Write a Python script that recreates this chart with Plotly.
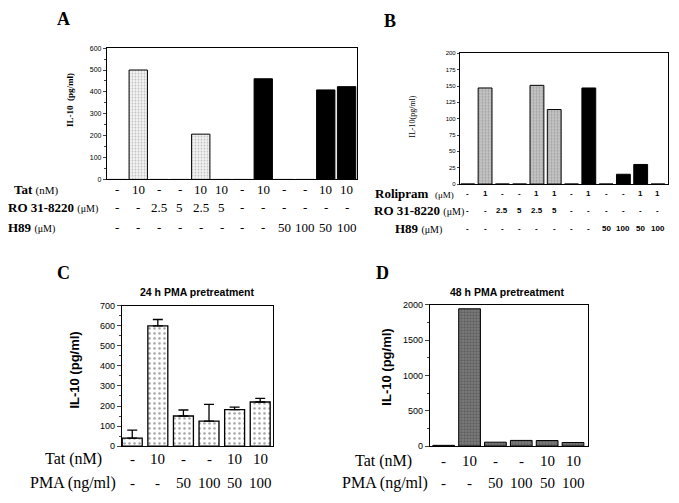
import plotly.graph_objects as go

# ---------------- data ----------------
# Panel A
A_tat = ["-", "10", "-", "-", "10", "10", "-", "10", "-", "-", "10", "10"]
A_ro = ["-", "-", "2.5", "5", "2.5", "5", "-", "-", "-", "-", "-", "-"]
A_h89 = ["-", "-", "-", "-", "-", "-", "-", "-", "50", "100", "50", "100"]
A_il10 = [0, 500, 0, 0, 207, 0, 0, 460, 0, 0, 409, 424]
A_solid = [False, False, False, False, False, False, False, True, True, True, True, True]

# Panel B
B_rolipram = ["-", "1", "-", "-", "1", "1", "-", "1", "-", "-", "1", "1"]
B_ro = ["-", "-", "2.5", "5", "2.5", "5", "-", "-", "-", "-", "-", "-"]
B_h89 = ["-", "-", "-", "-", "-", "-", "-", "-", "50", "100", "50", "100"]
B_il10 = [0, 147, 0, 0, 151, 114, 0, 147, 0, 15, 30, 0]
B_solid = [False, False, False, False, False, False, False, True, True, True, True, True]

# Panel C (24 h PMA pretreatment)
C_tat = ["-", "10", "-", "-", "10", "10"]
C_pma = ["-", "-", "50", "100", "50", "100"]
C_il10 = [40, 600, 150, 125, 182, 220]
C_err = [40, 32, 30, 83, 12, 18]

# Panel D (48 h PMA pretreatment)
D_tat = ["-", "10", "-", "-", "10", "10"]
D_pma = ["-", "-", "50", "100", "50", "100"]
D_il10 = [10, 1945, 55, 80, 78, 50]

# ---------------- layout helpers ----------------
W, H = 679, 503
SERIF = "Liberation Serif"
SANS = "Liberation Sans"


def px(x):
    return x / W


def py(y):
    return 1 - y / H


fig = go.Figure()


def split(vals, mask, want):
    return [v if m == want else None for v, m in zip(vals, mask)]


# Panel A bars
xa = list(range(len(A_il10)))
fig.add_trace(go.Bar(x=xa, y=split(A_il10, A_solid, False), width=0.88,
                     marker=dict(color="white", line=dict(color="black", width=1),
                                 pattern=dict(shape=".", fgcolor="#8a8a8a", bgcolor="#f4f4f4",
                                              size=3, solidity=0.3)),
                     xaxis="x", yaxis="y", showlegend=False))
fig.add_trace(go.Bar(x=xa, y=split(A_il10, A_solid, True), width=0.88,
                     marker=dict(color="black", line=dict(color="black", width=1)),
                     xaxis="x", yaxis="y", showlegend=False))

# Panel B bars
xb = list(range(len(B_il10)))
fig.add_trace(go.Bar(x=xb, y=split(B_il10, B_solid, False), width=0.8,
                     marker=dict(color="#bdbdbd", line=dict(color="black", width=1),
                                 pattern=dict(shape=".", fgcolor="#7a7a7a", bgcolor="#c4c4c4",
                                              size=3, solidity=0.3)),
                     xaxis="x2", yaxis="y2", showlegend=False))
fig.add_trace(go.Bar(x=xb, y=split(B_il10, B_solid, True), width=0.8,
                     marker=dict(color="black", line=dict(color="black", width=1)),
                     xaxis="x2", yaxis="y2", showlegend=False))

# Panel C bars
xc = list(range(len(C_il10)))
fig.add_trace(go.Bar(x=xc, y=C_il10, width=0.78,
                     marker=dict(color="white", line=dict(color="black", width=1.3),
                                 pattern=dict(shape=".", fgcolor="#444444", bgcolor="white",
                                              size=5, solidity=0.2)),
                     error_y=dict(type="data", array=C_err, arrayminus=[0] * len(C_err),
                                  symmetric=False, color="black", thickness=1.3, width=5),
                     xaxis="x3", yaxis="y3", showlegend=False))

# Panel D bars
xd = list(range(len(D_il10)))
fig.add_trace(go.Bar(x=xd, y=D_il10, width=0.84,
                     marker=dict(color="#707070", line=dict(color="black", width=1),
                                 pattern=dict(shape=".", fgcolor="#3a3a3a", bgcolor="#7a7a7a",
                                              size=3, solidity=0.4)),
                     xaxis="x4", yaxis="y4", showlegend=False))

axis_common = dict(showgrid=False, zeroline=False, showline=True, mirror=True,
                   linecolor="black", fixedrange=True)

layout = dict(
    width=W, height=H, margin=dict(l=0, r=0, t=0, b=0),
    paper_bgcolor="white", plot_bgcolor="white", barmode="overlay",
    showlegend=False,
    xaxis=dict(domain=[px(107), px(357)], range=[-0.5, 11.5], showticklabels=False,
               ticks="", linewidth=1.3, anchor="y", **axis_common),
    yaxis=dict(domain=[py(178), py(44)], range=[0, 600], dtick=100, ticks="outside",
               ticklen=3, tickwidth=1, linewidth=1.3, anchor="x",
               minor=dict(dtick=50, ticks="outside", ticklen=2),
               tickfont=dict(family=SANS, size=7, color="black"), **axis_common),
    xaxis2=dict(domain=[px(460), px(668)], range=[-0.45, 11.58], showticklabels=False,
                ticks="", linewidth=1.3, anchor="y2", **axis_common),
    yaxis2=dict(domain=[py(182.7), py(49.3)], range=[0, 200], dtick=25, ticks="outside",
                ticklen=2, tickwidth=1, linewidth=1.2, anchor="x2",
                tickfont=dict(family=SANS, size=6, color="black"), **axis_common),
    xaxis3=dict(domain=[px(122), px(273)], range=[-0.4, 5.5], showticklabels=False,
                ticks="", linewidth=1.3, anchor="y3", **axis_common),
    yaxis3=dict(domain=[py(450), py(307)], range=[0, 700], dtick=100, ticks="outside",
                ticklen=4, tickwidth=1, linewidth=1.3, anchor="x3",
                minor=dict(dtick=50, ticks="outside", ticklen=2),
                tickfont=dict(family=SANS, size=9, color="black"), **axis_common),
    xaxis4=dict(domain=[px(430), px(588)], range=[-0.53, 5.58], showticklabels=False,
                ticks="", linewidth=1.3, anchor="y4", **axis_common),
    yaxis4=dict(domain=[py(450), py(306)], range=[0, 2000], dtick=500, ticks="outside",
                ticklen=4, tickwidth=1, linewidth=1.3, anchor="x4",
                minor=dict(dtick=250, ticks="outside", ticklen=2),
                tickfont=dict(family=SANS, size=9, color="black"), **axis_common),
)
fig.update_layout(**layout)

ann = []


def paper_text(x, y, text, size, family, xanchor="left", bold=False, angle=0):
    if bold:
        text = "<b>" + text + "</b>"
    ann.append(dict(x=px(x), y=py(y), xref="paper", yref="paper", text=text,
                    showarrow=False, xanchor=xanchor, yanchor="middle", textangle=angle,
                    font=dict(family=family, size=size, color="black")))


def row_values(labels, xref, y, size, family, bold=False):
    for i, t in enumerate(labels):
        txt = "<b>" + t + "</b>" if bold else t
        ann.append(dict(x=i, y=py(y), xref=xref, yref="paper", text=txt,
                        showarrow=False, xanchor="center", yanchor="middle",
                        font=dict(family=family, size=size, color="black")))


# Panel letters
paper_text(63, 14, "A", 18, SERIF, "center", bold=True)
paper_text(390, 16, "B", 18, SERIF, "center", bold=True)
paper_text(63, 273, "C", 18, SERIF, "center", bold=True)
paper_text(382, 273, "D", 18, SERIF, "center", bold=True)

# Y titles
paper_text(70, 97, "IL-10  (pg/ml)", 9, SERIF, "center", bold=True, angle=-90)
paper_text(413, 113, "IL-10(pg/ml)", 8, SERIF, "center", angle=-90)
paper_text(75, 373, "IL-10 (pg/ml)", 13, SANS, "center", bold=True, angle=-90)
paper_text(387, 370, "IL-10 (pg/ml)", 13, SANS, "center", bold=True, angle=-90)

# Panel titles
paper_text(197, 293, "24 h PMA pretreatment", 10.5, SANS, "center", bold=True)
paper_text(507, 293, "48 h PMA pretreatment", 10.5, SANS, "center", bold=True)

# Panel A row labels
paper_text(12, 188, "<b>Tat</b> <span style='font-size:11px'>(nM)</span>", 13, SERIF)
paper_text(6, 207, "<b>RO 31-8220</b> <span style='font-size:10px'>(μM)</span>", 13, SERIF)
paper_text(6, 227, "<b>H89</b> <span style='font-size:10px'>(μM)</span>", 13, SERIF)
row_values(A_tat, "x", 188, 13, SERIF)
row_values(A_ro, "x", 207, 13, SERIF)
row_values(A_h89, "x", 227, 13, SERIF)

# Panel B row labels
paper_text(373, 192, "<b>Rolipram</b>  <span style='font-size:9px'>(μM)</span>", 13, SERIF)
paper_text(372, 210, "<b>RO 31-8220</b> <span style='font-size:10px'>(μM)</span>", 13, SERIF)
paper_text(393, 228, "<b>H89</b> <span style='font-size:10px'>(μM)</span>", 13, SERIF)
row_values(B_rolipram, "x2", 192, 8, SANS, bold=True)
row_values(B_ro, "x2", 210, 8, SANS, bold=True)
row_values(B_h89, "x2", 228, 8, SANS, bold=True)

# Panel C row labels
paper_text(43, 463, "Tat (nM)", 16, SERIF)
paper_text(28, 488, "PMA (ng/ml)", 16, SERIF)
row_values(C_tat, "x3", 463, 15, SERIF)
row_values(C_pma, "x3", 488, 15, SERIF)

# Panel D row labels
paper_text(353, 465, "Tat (nM)", 16, SERIF)
paper_text(340, 488, "PMA (ng/ml)", 16, SERIF)
row_values(D_tat, "x4", 465, 15, SERIF)
row_values(D_pma, "x4", 488, 15, SERIF)

fig.update_layout(annotations=ann)

fig.write_html("out.html", config={"displayModeBar": False},
               post_script="document.body.style.margin='0';document.body.style.overflow='hidden';")
